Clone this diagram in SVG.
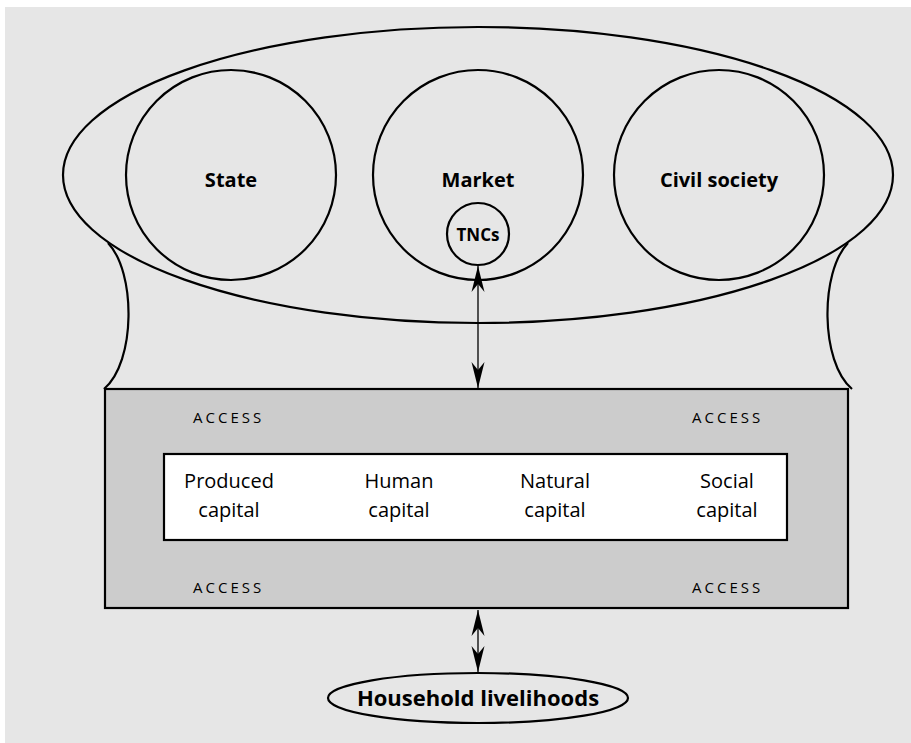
<svg xmlns="http://www.w3.org/2000/svg" width="911" height="743" viewBox="0 0 911 743">
<style>
.ln{fill:none;stroke:#000;stroke-width:2.2}
.bold{font-family:"Open Sans","Liberation Sans",sans-serif;font-weight:bold;fill:#000;text-anchor:middle}
.cap{font-family:"Open Sans","Liberation Sans",sans-serif;font-size:20px;fill:#000;text-anchor:middle}
.acc{font-family:"Open Sans","Liberation Sans",sans-serif;font-size:15px;letter-spacing:3px;fill:#000;text-anchor:start}
.arr{fill:none;stroke:#000;stroke-width:1.3}
</style>
<defs>
<marker id="ah" viewBox="-26 -7 28 14" refX="0" refY="0" markerWidth="28" markerHeight="14" markerUnits="userSpaceOnUse" orient="auto-start-reverse">
<path d="M0,0 L-26,-6.5 L-18,0 L-26,6.5 Z" fill="#000"/>
</marker>
</defs>
<rect x="5" y="7" width="906" height="736" fill="#e6e6e6"/>
<g id="sectors">
<ellipse class="ln" cx="478" cy="175" rx="415" ry="148"/>
</g>
<g id="state">
<circle class="ln" cx="231" cy="175" r="105"/>
<text class="bold" x="231" y="187" font-size="20">State</text>
</g>
<g id="market">
<circle class="ln" cx="478" cy="175" r="105"/>
<text class="bold" x="478" y="187" font-size="20">Market</text>
</g>
<g id="tncs">
<circle class="ln" cx="478" cy="234" r="31"/>
<text class="bold" x="478" y="241" font-size="17">TNCs</text>
</g>
<g id="civil">
<circle class="ln" cx="719" cy="175" r="105"/>
<text class="bold" x="719" y="187" font-size="20">Civil society</text>
</g>
<g id="access-box">
<rect x="105" y="389" width="743" height="219" fill="#cccccc" stroke="#000" stroke-width="2.2"/>
<text class="acc" x="193" y="423">ACCESS</text>
<text class="acc" x="692" y="423">ACCESS</text>
<text class="acc" x="193" y="593">ACCESS</text>
<text class="acc" x="692" y="593">ACCESS</text>
</g>
<g id="capitals">
<rect x="164" y="454" width="623" height="86" fill="#fff" stroke="#000" stroke-width="2.2"/>
<text class="cap" x="229" y="488">Produced</text>
<text class="cap" x="229" y="517">capital</text>
<text class="cap" x="399" y="488">Human</text>
<text class="cap" x="399" y="517">capital</text>
<text class="cap" x="555" y="488">Natural</text>
<text class="cap" x="555" y="517">capital</text>
<text class="cap" x="727" y="488">Social</text>
<text class="cap" x="727" y="517">capital</text>
</g>
<g id="household">
<ellipse class="ln" cx="478" cy="698" rx="150" ry="25"/>
<text class="bold" x="478" y="706" font-size="22">Household livelihoods</text>
</g>
<g id="connectors">
<path class="ln" d="M108,243 C136,272 136,362 104,389"/>
<path class="ln" d="M848,243 C820,272 820,362 852,389"/>
<line class="arr" x1="478" y1="266" x2="478" y2="388" marker-start="url(#ah)" marker-end="url(#ah)"/>
<line class="arr" x1="478" y1="610" x2="478" y2="672" marker-start="url(#ah)" marker-end="url(#ah)"/>
</g>
</svg>
